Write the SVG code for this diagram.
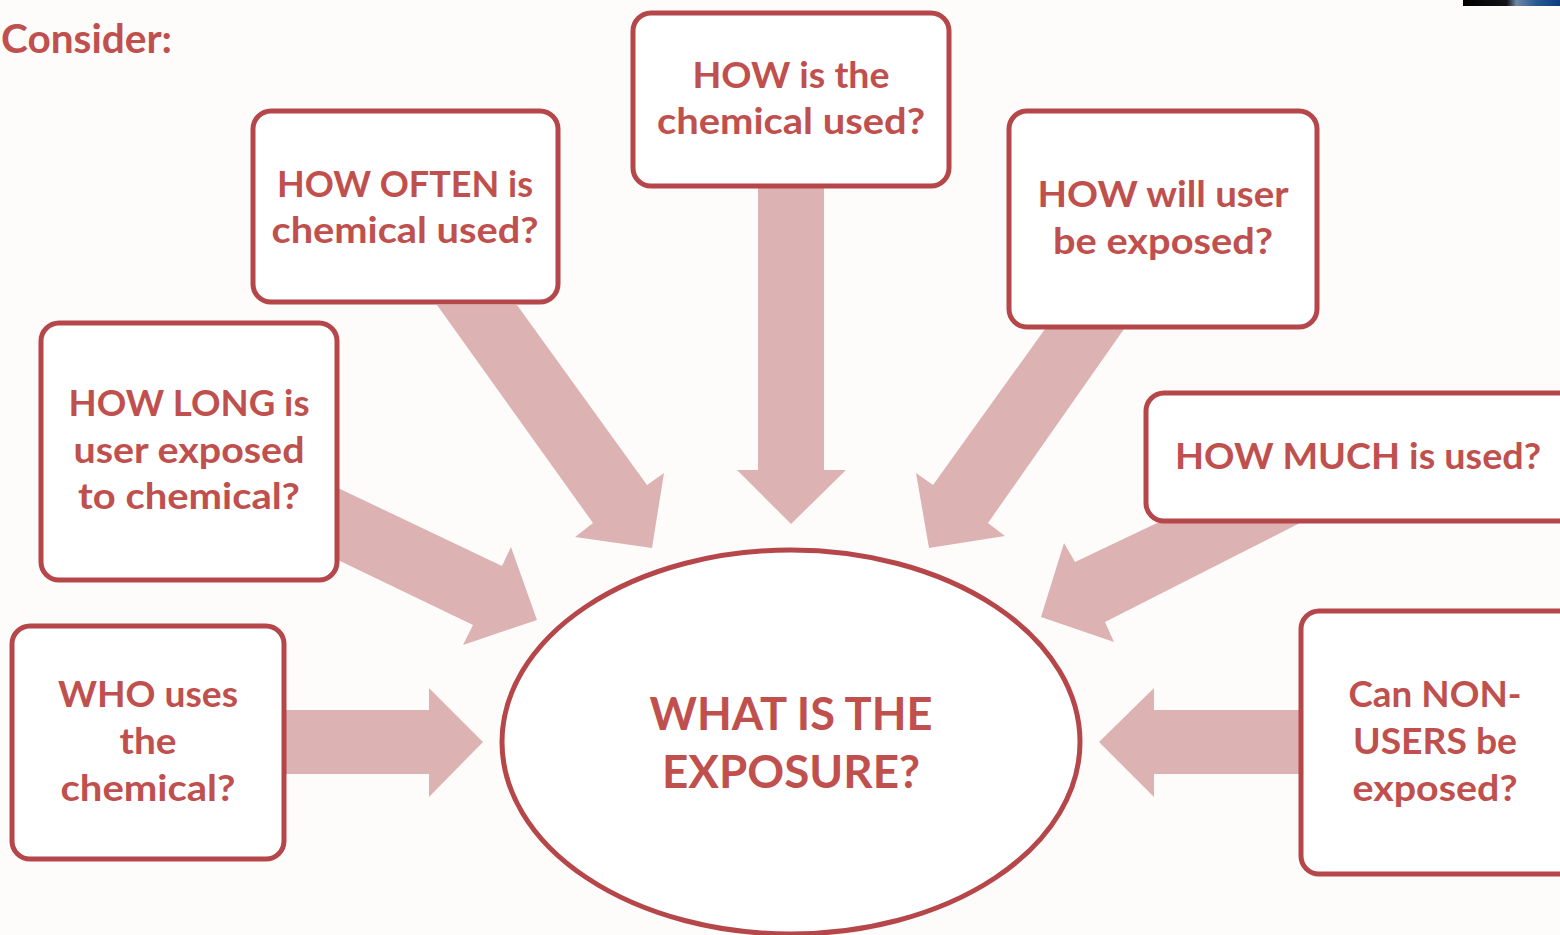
<svg xmlns="http://www.w3.org/2000/svg" width="1560" height="935" viewBox="0 0 1560 935">
<style>
.box{fill:#ffffff;stroke:#b5474a;stroke-width:5}
.arr{fill:#dcb2b3}
.t{font-family:Lato,"Open Sans","Liberation Sans",sans-serif;font-weight:bold;fill:#c0504d;font-size:36px;text-anchor:middle}
.big{font-size:46px}
</style>
<defs>
<linearGradient id="g" x1="0" x2="1" y1="0" y2="0">
<stop offset="0" stop-color="#000000"/><stop offset="0.45" stop-color="#101418"/><stop offset="0.55" stop-color="#6d86a6"/><stop offset="0.75" stop-color="#2a5a92"/><stop offset="1" stop-color="#0b3c80"/>
</linearGradient>
</defs>
<rect width="1560" height="935" fill="#fefcfb"/>
<rect x="1463" y="0" width="97" height="6" fill="url(#g)"/>
<text class="t" x="1" y="53" style="text-anchor:start;font-size:40px" textLength="171" lengthAdjust="spacingAndGlyphs">Consider:</text>
<g id="connectors">
<polygon class="arr" points="758,186 824,186 824,470 846,470 791,524 737,470 758,470"/>
<polygon class="arr" points="284,710 429,710 429,688 483,742 429,797 429,774 284,774"/>
<polygon class="arr" points="1301,710 1154,710 1154,688 1099,742 1154,797 1154,774 1301,774"/>
<polygon class="arr" points="437,305 517,305 647,485 664,473 652,548 575,537 593,523"/>
<polygon class="arr" points="338,488 502,566 511,547 537,620 463,645 473,625 338,560"/>
<polygon class="arr" points="1157,523 1075,562 1064,543 1041,617 1114,642 1105,622 1300,523"/>
<polygon class="arr" points="1045,329 1124,329 988,523 1005,536 929,548 916,473 933,485"/>
</g>
<g id="often">
<rect class="box" x="253" y="111" width="305" height="191" rx="18"/>
<text class="t" x="405" y="197" textLength="256" lengthAdjust="spacingAndGlyphs">HOW OFTEN is</text>
<text class="t" x="405" y="243" textLength="267" lengthAdjust="spacingAndGlyphs">chemical used?</text>
</g>
<g id="how-used">
<rect class="box" x="633" y="13" width="316" height="173" rx="18"/>
<text class="t" x="791" y="88" textLength="197" lengthAdjust="spacingAndGlyphs">HOW is the</text>
<text class="t" x="791" y="134" textLength="268" lengthAdjust="spacingAndGlyphs">chemical used?</text>
</g>
<g id="how-exposed">
<rect class="box" x="1009" y="111" width="308" height="216" rx="18"/>
<text class="t" x="1163" y="207" textLength="251" lengthAdjust="spacingAndGlyphs">HOW will user</text>
<text class="t" x="1163" y="254" textLength="220" lengthAdjust="spacingAndGlyphs">be exposed?</text>
</g>
<g id="how-long">
<rect class="box" x="41" y="323" width="296" height="257" rx="18"/>
<text class="t" x="189" y="416" textLength="241" lengthAdjust="spacingAndGlyphs">HOW LONG is</text>
<text class="t" x="189" y="463" textLength="231" lengthAdjust="spacingAndGlyphs">user exposed</text>
<text class="t" x="189" y="509" textLength="222" lengthAdjust="spacingAndGlyphs">to chemical?</text>
</g>
<g id="how-much">
<rect class="box" x="1146" y="393" width="440" height="128" rx="18"/>
<text class="t" x="1358" y="469" textLength="366" lengthAdjust="spacingAndGlyphs">HOW MUCH is used?</text>
</g>
<g id="who">
<rect class="box" x="12" y="626" width="272" height="233" rx="18"/>
<text class="t" x="148" y="707" textLength="180" lengthAdjust="spacingAndGlyphs">WHO uses</text>
<text class="t" x="148" y="754" textLength="57" lengthAdjust="spacingAndGlyphs">the</text>
<text class="t" x="148" y="801" textLength="175" lengthAdjust="spacingAndGlyphs">chemical?</text>
</g>
<g id="non-users">
<rect class="box" x="1301" y="611" width="290" height="263" rx="18"/>
<text class="t" x="1435" y="707" textLength="173" lengthAdjust="spacingAndGlyphs">Can NON-</text>
<text class="t" x="1435" y="754" textLength="164" lengthAdjust="spacingAndGlyphs">USERS be</text>
<text class="t" x="1435" y="801" textLength="165" lengthAdjust="spacingAndGlyphs">exposed?</text>
</g>
<g id="exposure">
<ellipse class="box" cx="791" cy="742" rx="289" ry="192"/>
<text class="t big" x="791" y="730" textLength="283" lengthAdjust="spacingAndGlyphs">WHAT IS THE</text>
<text class="t big" x="791" y="788" textLength="258" lengthAdjust="spacingAndGlyphs">EXPOSURE?</text>
</g>
</svg>
